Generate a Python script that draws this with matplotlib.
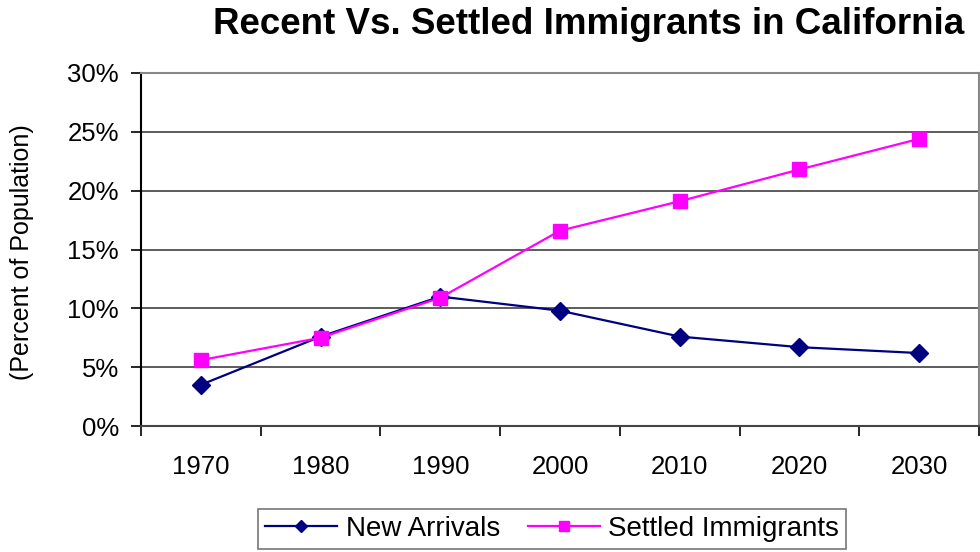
import matplotlib
matplotlib.use("Agg")
import matplotlib.pyplot as plt
import numpy as np
from matplotlib.ticker import FixedLocator, PercentFormatter

plt.rcParams['font.family'] = ['Liberation Sans', 'DejaVu Sans']

years = ['1970', '1980', '1990', '2000', '2010', '2020', '2030']
new_arrivals = [3.5, 7.6, 11.0, 9.8, 7.6, 6.7, 6.2]
settled = [5.6, 7.5, 10.9, 16.6, 19.1, 21.8, 24.4]
yticks = [0, 5, 10, 15, 20, 25, 30]

fig = plt.figure(figsize=(9.8, 5.52), dpi=100)
ax = fig.add_axes([141/980, 1-426/552, (979-141)/980, (426-73)/552])

x = np.arange(len(years))
l1, = ax.plot(x, new_arrivals, color='#000080', lw=1.6, marker='D', ms=9,
              label='New Arrivals', zorder=3)
l2, = ax.plot(x, settled, color='#FF00FF', lw=1.6, marker='s', ms=10,
              label='Settled Immigrants', zorder=3)

ax.set_xlim(-0.5, len(years)-0.5)
ax.set_ylim(0, 30)
ax.set_yticks(yticks)
ax.yaxis.set_major_formatter(PercentFormatter(decimals=0))
ax.set_xticks(x)
ax.set_xticklabels(years)
ax.xaxis.set_minor_locator(FixedLocator(np.arange(-0.5, len(years), 1.0)))
ax.tick_params(axis='x', which='major', length=0, pad=21, labelsize=18.5)
ax.tick_params(axis='x', which='minor', length=7, width=1.2, color='black', direction='out')
ax.tick_params(axis='y', length=7, width=1.2, direction='out', labelsize=18.5, pad=9)

ax.grid(axis='y', color='#303030', lw=1.1)
ax.set_axisbelow(True)
for s in ['top', 'right']:
    ax.spines[s].set_color('#888888')
    ax.spines[s].set_linewidth(1.5)
ax.spines['left'].set_color('black')
ax.spines['left'].set_linewidth(1.5)
ax.spines['bottom'].set_color('#444444')
ax.spines['bottom'].set_linewidth(1.5)

fig.text(22/980, 1-252/552, '(Percent of Population)', rotation=90,
         ha='center', va='center', fontsize=18)

fig.text(589/980, 1-25/552, 'Recent Vs. Settled Immigrants in California',
         ha='center', va='center', fontsize=26.5, fontweight='bold')

leg = fig.legend(handles=[l1, l2], loc='upper left',
                 bbox_to_anchor=(258/980, 1-509/552), ncol=2, fontsize=20,
                 frameon=True, fancybox=False, edgecolor='#555555',
                 handlelength=2.6, handletextpad=0.3, columnspacing=1.0,
                 borderpad=0.25, borderaxespad=0, markerscale=0.7)
leg.get_frame().set_linewidth(1.2)

fig.savefig('out.png', dpi=100)
